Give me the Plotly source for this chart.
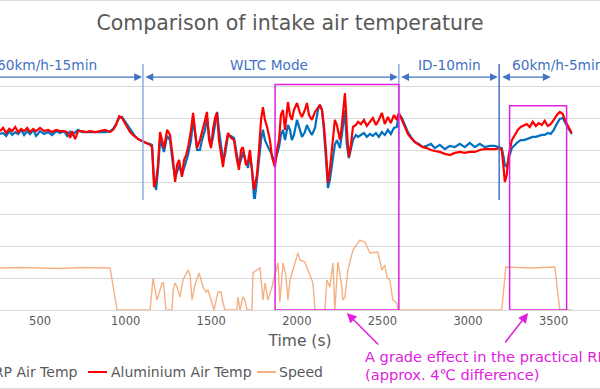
import plotly.graph_objects as go

# ---------------- data ----------------
TIME = [266, 284, 302, 320, 337, 355, 372, 390, 407, 425, 442, 460, 477, 500, 524, 547, 570, 594, 617, 641,
        658, 676, 687, 705, 722, 746, 769, 792, 822, 851, 880, 909, 927, 944, 962, 979, 1003, 1026, 1049, 1073,
        1096, 1119, 1143, 1154, 1166, 1178, 1189, 1201, 1213, 1224, 1242, 1259, 1277, 1289, 1300, 1312, 1329, 1341, 1353, 1364,
        1382, 1394, 1405, 1417, 1434, 1446, 1464, 1475, 1487, 1499, 1510, 1522, 1534, 1545, 1557, 1569, 1580, 1598, 1615, 1633,
        1650, 1662, 1674, 1685, 1703, 1715, 1726, 1738, 1750, 1755, 1767, 1779, 1791, 1802, 1814, 1826, 1843, 1855, 1872, 1884,
        1896, 1907, 1919, 1931, 1942, 1948, 1960, 1971, 1983, 2001, 2018, 2030, 2047, 2059, 2071, 2088, 2106, 2123, 2135, 2147,
        2158, 2170, 2176, 2182, 2193, 2205, 2217, 2222, 2234, 2252, 2263, 2275, 2281, 2287, 2292, 2304, 2316, 2328, 2345, 2357,
        2374, 2392, 2409, 2427, 2444, 2462, 2479, 2497, 2514, 2532, 2549, 2567, 2584, 2596, 2614, 2631, 2649, 2666, 2689, 2713,
        2736, 2759, 2783, 2806, 2835, 2865, 2894, 2923, 2952, 2981, 3010, 3040, 3069, 3098, 3127, 3156, 3186, 3197, 3209, 3215,
        3226, 3238, 3256, 3273, 3291, 3308, 3326, 3343, 3361, 3378, 3396, 3413, 3431, 3448, 3466, 3483, 3501, 3518, 3536, 3553,
        3571, 3588, 3606]

CFRP_TEMP = [55.0, 55.3, 54.4, 55.9, 54.7, 55.6, 55.0, 56.3, 54.7, 55.9, 55.0, 56.3, 54.4, 55.9, 55.0, 55.6, 54.7, 55.9, 55.3, 55.9,
             54.4, 55.9, 54.7, 55.6, 56.3, 55.6, 55.6, 55.6, 55.6, 55.6, 55.6, 55.9, 56.6, 58.1, 60.0, 60.3, 58.4, 56.3, 54.7, 53.4,
             52.8, 52.2, 51.9, 51.6, 40.6, 37.5, 43.8, 53.1, 51.3, 49.4, 54.4, 53.1, 45.3, 41.3, 43.1, 45.3, 42.2, 44.4, 46.9, 48.4,
             53.1, 59.4, 55.3, 50.0, 50.0, 53.1, 56.3, 60.0, 54.7, 51.6, 53.8, 57.8, 61.9, 56.3, 50.6, 46.9, 48.4, 54.7, 54.4, 53.8,
             48.4, 45.3, 46.9, 49.4, 46.3, 44.4, 48.4, 43.8, 35.0, 35.0, 40.6, 46.9, 53.1, 56.3, 53.1, 51.6, 50.0, 48.4, 46.3, 48.4,
             50.9, 54.7, 56.3, 53.1, 56.9, 57.8, 56.3, 53.1, 54.7, 59.4, 56.3, 54.1, 55.6, 57.8, 56.3, 54.7, 56.9, 62.5, 64.1, 62.5,
             56.3, 46.9, 42.2, 38.1, 40.6, 45.3, 50.0, 51.6, 53.1, 50.6, 54.7, 59.4, 62.5, 56.3, 51.6, 47.5, 50.0, 53.1, 54.7, 54.1,
             54.7, 55.3, 54.1, 55.0, 54.4, 55.3, 54.1, 55.6, 54.7, 56.3, 55.0, 56.9, 57.2, 61.3, 60.0, 57.8, 55.6, 54.1, 52.5, 51.9,
             50.9, 51.3, 51.9, 50.6, 51.6, 50.3, 51.3, 50.9, 51.9, 50.9, 52.2, 50.9, 51.9, 50.9, 51.3, 51.3, 50.9, 50.6, 47.5, 45.3,
             44.7, 47.5, 50.6, 51.6, 52.5, 53.1, 53.1, 53.4, 53.8, 54.1, 54.1, 54.4, 54.7, 54.7, 55.3, 55.0, 56.3, 58.1, 59.7, 60.0,
             58.1, 56.6, 55.0]

ALU_TEMP = [55.9, 56.9, 55.3, 56.6, 55.9, 57.2, 55.6, 56.6, 55.9, 56.9, 55.6, 56.6, 55.9, 56.9, 55.9, 56.3, 55.6, 56.3, 55.9, 55.9,
            55.6, 53.8, 55.9, 53.4, 55.9, 55.9, 55.6, 55.9, 55.6, 55.9, 56.3, 55.6, 56.3, 57.8, 60.6, 60.0, 57.5, 55.6, 54.4, 53.4,
            52.8, 52.2, 51.6, 50.9, 38.4, 40.6, 45.3, 55.6, 52.5, 50.6, 56.3, 54.7, 46.9, 40.0, 45.3, 46.9, 41.6, 46.9, 48.4, 50.6,
            56.3, 61.6, 56.3, 50.6, 53.1, 55.3, 59.4, 61.9, 53.1, 50.6, 56.3, 60.0, 61.6, 53.1, 49.1, 44.7, 50.0, 55.3, 53.8, 53.1,
            46.9, 43.8, 50.0, 50.9, 45.3, 46.3, 50.0, 43.8, 37.5, 39.1, 42.2, 50.0, 59.4, 63.4, 59.4, 57.2, 53.1, 47.8, 44.7, 50.0,
            53.1, 60.9, 62.5, 56.3, 62.5, 65.0, 60.9, 59.4, 62.5, 64.7, 61.6, 60.3, 62.5, 64.7, 60.9, 59.4, 61.9, 63.1, 64.1, 62.5,
            57.8, 50.0, 45.9, 39.7, 43.8, 50.9, 56.3, 59.4, 57.8, 53.1, 57.8, 64.1, 67.8, 62.5, 56.3, 47.8, 51.6, 57.2, 57.8, 58.8,
            58.1, 59.4, 57.5, 58.8, 60.0, 57.8, 59.4, 61.6, 58.1, 60.3, 58.4, 60.9, 59.4, 61.6, 59.4, 56.9, 55.0, 53.8, 52.5, 51.6,
            50.9, 50.6, 50.0, 49.7, 49.4, 48.8, 48.4, 49.1, 49.4, 49.1, 49.4, 49.4, 50.0, 50.3, 50.3, 50.3, 50.6, 50.0, 43.8, 40.0,
            42.2, 48.4, 53.1, 54.7, 56.3, 57.2, 57.8, 58.1, 57.2, 58.8, 57.5, 58.4, 57.8, 59.1, 57.5, 58.1, 59.4, 60.9, 61.9, 61.3,
            58.8, 56.9, 55.3]

SPEED_TIME = [266, 383, 500, 617, 733, 851, 909, 950, 1143, 1160, 1183, 1213, 1221, 1236, 1271, 1277, 1289, 1300, 1318, 1335,
              1364, 1376, 1388, 1405, 1429, 1452, 1469, 1481, 1499, 1516, 1539, 1557, 1569, 1580, 1650, 1656, 1668, 1685, 1697, 1709,
              1738, 1744, 1767, 1785, 1802, 1814, 1831, 1855, 1866, 1890, 1901, 1919, 1936, 1948, 1960, 1977, 2006, 2018, 2047, 2065,
              2094, 2106, 2164, 2176, 2193, 2211, 2222, 2240, 2263, 2269, 2281, 2298, 2328, 2368, 2398, 2427, 2456, 2473, 2497, 2514,
              2526, 2543, 2561, 2584, 2590, 3197, 3221, 3361, 3507, 3536, 3606]
SPEED = [60.0, 60.7, 60.0, 59.3, 60.7, 60.0, 60.0, 0, 0, 45.7, 14.3, 38.6, 38.6, 0, 0, 28.6, 38.6, 32.9, 18.6, 42.9,
         57.1, 50.0, 14.3, 35.7, 52.9, 32.9, 25.7, 28.6, 14.3, 0, 25.7, 25.7, 10.0, 0, 0, 18.6, 0, 18.6, 14.3, 0,
         0, 52.9, 57.1, 60.0, 14.3, 38.6, 14.3, 32.9, 45.7, 67.1, 11.4, 67.1, 50.0, 14.3, 42.9, 57.1, 81.4, 71.4, 68.6, 57.1,
         38.6, 0, 0, 42.9, 32.9, 67.1, 0, 68.6, 32.9, 14.3, 18.6, 57.1, 85.7, 100.0, 97.1, 81.4, 82.9, 82.9, 57.1, 64.3,
         47.1, 42.9, 14.3, 10.0, 0, 0, 61.4, 60.0, 61.4, 0, 0]

assert len(TIME) == len(CFRP_TEMP) == len(ALU_TEMP)
assert len(SPEED_TIME) == len(SPEED)

X_TICKS = [500, 1000, 1500, 2000, 2500, 3000, 3500]

PHASES = [("60km/h-15min", 847, "right"), ("WLTC Mode", 1837, "center"),
          ("ID-10min", 2893, "center"), ("60km/h-5min", 3243, "left")]
PHASE_ARROWS = [(150, 1096), (1107, 2590), (2601, 3174), (3191, 3483)]
PHASE_LINES = [(1101, "#8FAADC"), (2596, "#8FAADC"), (3182, "#4472C4")]
BOXES = [(1873, 2596, 70.5), (3243, 3576, 63.8)]

FONT = "DejaVu Sans"
GREY = "#595959"
MAG = "#E020E0"
BLUE = "#0070C0"
RED = "#FF0000"
ORANGE = "#F4B183"

fig = go.Figure()
fig.add_trace(go.Scatter(x=TIME, y=CFRP_TEMP, name="CFRP Air Temp", mode="lines",
                         line=dict(color=BLUE, width=2.2)))
fig.add_trace(go.Scatter(x=TIME, y=ALU_TEMP, name="Aluminium Air Temp", mode="lines",
                         line=dict(color=RED, width=2.2)))
fig.add_trace(go.Scatter(x=SPEED_TIME, y=SPEED, name="Speed", mode="lines", yaxis="y2",
                         line=dict(color=ORANGE, width=1.4)))

shapes = []
annotations = []

# phase separators
for t, c in PHASE_LINES:
    shapes.append(dict(type="line", x0=t, x1=t, y0=34.4, y1=76.9, xref="x", yref="y",
                       line=dict(color=c, width=1.5)))
# magenta boxes
for x0, x1, ytop in BOXES:
    shapes.append(dict(type="rect", x0=x0, x1=x1, y0=0, y1=ytop, xref="x", yref="y",
                       line=dict(color=MAG, width=1.5)))
# chart border top / bottom
for yy in (1.209, -0.3066):
    shapes.append(dict(type="line", x0=0, x1=1, y0=yy, y1=yy, xref="paper", yref="paper",
                       line=dict(color="#D9D9D9", width=1)))

# phase labels
for txt, t, anc in PHASES:
    annotations.append(dict(text=txt, x=t, y=76.6, xref="x", yref="y", xanchor=anc, yanchor="middle",
                            showarrow=False, font=dict(family=FONT, size=13.7, color="#4472C4")))
# phase double arrows
for a, b in PHASE_ARROWS:
    annotations.append(dict(text=" ", x=b, y=72.8, ax=a, ay=72.8, xref="x", yref="y", axref="x", ayref="y",
                            showarrow=True, arrowhead=2, startarrowhead=2, arrowside="end+start",
                            arrowsize=1.2, startarrowsize=1.2, arrowwidth=1.3, arrowcolor="#4472C4",
                            font=dict(size=1)))

# magenta callout
annotations.append(dict(text="A grade effect in the practical RDE", x=363 / 600, y=-0.1797, xref="paper", yref="paper",
                        xanchor="left", yanchor="middle", showarrow=False,
                        font=dict(family=FONT, size=14.6, color=MAG)))
annotations.append(dict(text="(approx. 4℃ difference)", x=363 / 600, y=-0.25, xref="paper", yref="paper",
                        xanchor="left", yanchor="middle", showarrow=False,
                        font=dict(family=FONT, size=14.6, color=MAG)))
for tip_t, ax, ay in [(2292, 33, 33), (3351, -24.5, 31.5)]:
    annotations.append(dict(text=" ", x=tip_t, y=-0.0117, xref="x", yref="paper", ax=ax, ay=ay,
                            showarrow=True, arrowhead=2, arrowsize=1.3, arrowwidth=1.5, arrowcolor=MAG,
                            font=dict(size=1)))

# legend (drawn manually so it can be cut at the left edge like the reference)
LEG_Y = -0.2422
legend_items = [("CFRP Air Temp", BLUE, -40, -21, 80, "right"),
                ("Aluminium Air Temp", RED, 88, 107, 109, "left"),
                ("Speed", ORANGE, 257, 276, 277, "left")]
for name, col, l0, l1, tx, anc in legend_items:
    shapes.append(dict(type="line", x0=l0 / 600, x1=l1 / 600, y0=LEG_Y, y1=LEG_Y, xref="paper", yref="paper",
                       line=dict(color=col, width=2)))
    annotations.append(dict(text=name, x=tx / 600, y=LEG_Y, xref="paper", yref="paper", xanchor=anc,
                            yanchor="middle", showarrow=False, font=dict(family=FONT, size=14, color=GREY)))

fig.update_layout(
    width=600, height=389,
    margin=dict(l=0, r=0, t=54, b=79, autoexpand=False),
    paper_bgcolor="white", plot_bgcolor="white",
    showlegend=False,
    font=dict(family=FONT, color=GREY),
    title=dict(text="Comparison of intake air temperature", x=290 / 600, xanchor="center",
               y=1 - 23 / 389, yanchor="middle", font=dict(family=FONT, size=20.5, color=GREY)),
    xaxis=dict(range=[266, 3771], tickvals=X_TICKS, showgrid=False, zeroline=False,
               showline=True, linecolor="#D9D9D9", ticks="",
               tickfont=dict(family=FONT, size=11.5, color=GREY),
               title=dict(text="Time (s)", font=dict(family=FONT, size=15.5, color=GREY), standoff=8)),
    yaxis=dict(range=[0, 80], dtick=10, showgrid=True, gridcolor="#D9D9D9", gridwidth=1,
               zeroline=False, showticklabels=False, ticks=""),
    yaxis2=dict(range=[0, 365.7], overlaying="y", visible=False),
    shapes=shapes, annotations=annotations,
)

fig.write_html("out.html", config={"displayModeBar": False},
               post_script="document.body.style.margin='0';document.body.style.padding='0';")
